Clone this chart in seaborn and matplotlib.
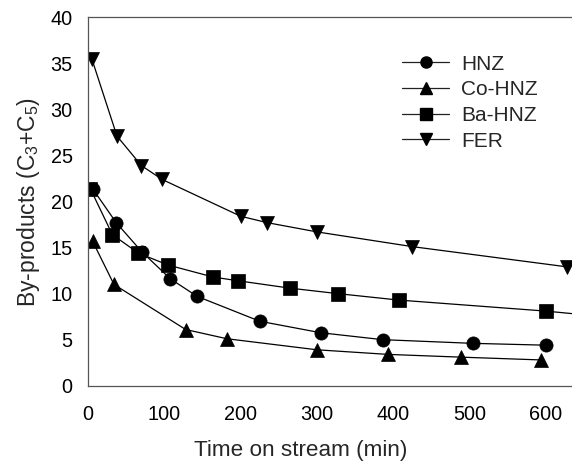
import matplotlib
matplotlib.use("Agg")
import matplotlib.pyplot as plt
import matplotlib.lines as mlines
import pandas as pd
import seaborn as sns

# Time on stream (min) and by-product yields for each catalyst
hnz_t = [6, 37, 71, 108, 143, 225, 305, 386, 504, 600]
hnz_v = [21.4, 17.7, 14.5, 11.6, 9.7, 7.0, 5.75, 5.0, 4.6, 4.4]

co_t = [6, 34, 128, 182, 300, 393, 489, 593]
co_v = [15.7, 11.0, 6.1, 5.1, 3.9, 3.4, 3.1, 2.8]

ba_t = [3, 32, 66, 105, 164, 196, 264, 327, 407, 600, 700]
ba_v = [21.4, 16.4, 14.4, 13.1, 11.8, 11.4, 10.6, 10.0, 9.3, 8.1, 7.3]

fer_t = [5, 38, 70, 97, 200, 235, 300, 425, 628]
fer_v = [35.5, 27.1, 23.9, 22.4, 18.4, 17.7, 16.7, 15.1, 12.9]

series_names = ["HNZ", "Co-HNZ", "Ba-HNZ", "FER"]
series_markers = {"HNZ": "o", "Co-HNZ": "^", "Ba-HNZ": "s", "FER": "v"}

frames = []
for name, t, v in zip(series_names, [hnz_t, co_t, ba_t, fer_t],
                      [hnz_v, co_v, ba_v, fer_v]):
    frames.append(pd.DataFrame({"time": t, "value": v, "catalyst": name}))
df = pd.concat(frames, ignore_index=True)

sns.set_style("white")
plt.rcParams["font.family"] = ["Liberation Sans", "DejaVu Sans"]
plt.rcParams["mathtext.fontset"] = "custom"
plt.rcParams["mathtext.rm"] = "Liberation Sans"
plt.rcParams["mathtext.it"] = "Liberation Sans"

fig = plt.figure(figsize=(5.72, 4.65), dpi=100)
ax = fig.add_axes([0.1538, 0.1705, 0.8462, 0.7923])

sns.lineplot(
    data=df, x="time", y="value", hue="catalyst", style="catalyst",
    hue_order=series_names, style_order=series_names,
    palette=["black"] * 4, markers=series_markers, dashes=False,
    sort=False, estimator=None, linewidth=0.9, markersize=9.5,
    markeredgecolor="black", markeredgewidth=0.5, ax=ax, legend=False,
)

ax.set_xlim(0, 634)
ax.set_ylim(0, 40)
ax.set_xticks(range(0, 601, 100))
ax.set_yticks(range(0, 41, 5))
ax.tick_params(axis="both", labelsize=14.3, colors="#555555", labelcolor="black",
               direction="out", width=0.8)
ax.tick_params(axis="x", length=3, pad=11)
ax.tick_params(axis="y", length=5, pad=6)

for side in ["left", "bottom", "top"]:
    ax.spines[side].set_color("#555555")
    ax.spines[side].set_linewidth(0.9)
ax.spines["right"].set_visible(False)

ax.set_xlabel("Time on stream (min)", fontsize=16.2)
ax.xaxis.set_label_coords(0.44, -0.147)
ax.set_ylabel("By-products (C$_3$+C$_5$)", fontsize=16.5, labelpad=6)

handles = [
    mlines.Line2D([], [], color="#222222", linewidth=0.9,
                  marker=series_markers[n], markersize=8,
                  markerfacecolor="black", markeredgecolor="black")
    for n in series_names
]
ax.legend(handles, series_names, loc="upper left",
          bbox_to_anchor=(0.649, 0.899), frameon=False, fontsize=15,
          handlelength=2.25, handletextpad=0.6, labelspacing=0.32,
          borderaxespad=0, borderpad=0)

fig.savefig("out.png", dpi=100)
